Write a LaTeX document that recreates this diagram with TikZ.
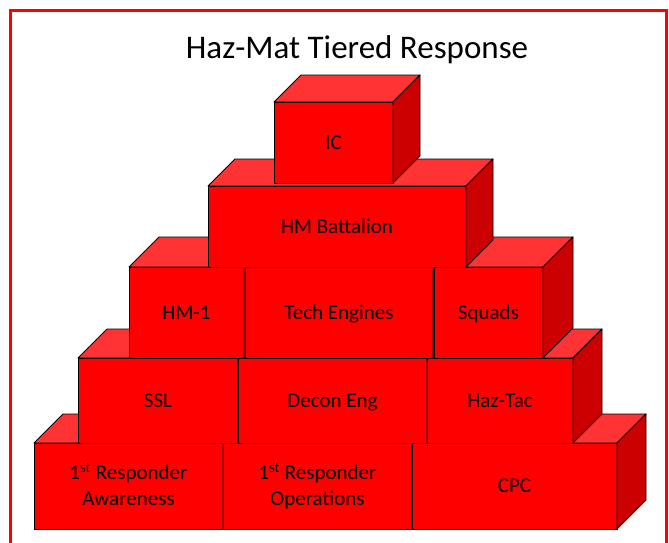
\documentclass[tikz,border=0pt]{standalone}
\usepackage{fontspec}
\setmainfont{Carlito}
\usepackage{tikz}
\usetikzlibrary{positioning}

\definecolor{brickfront}{HTML}{FF0000}
\definecolor{bricktop}{HTML}{FF3333}
\definecolor{brickside}{HTML}{CC0000}

\tikzset{
  brick/.style={draw=black, fill=brickfront, line width=0.9pt, outer sep=0pt, inner sep=2pt, align=center, text height=13.5pt, text depth=0pt, font=\fontsize{21}{26}\selectfont},
  twolines/.style={text height=39.5pt},
  topface/.style={draw=black, fill=bricktop, line width=0.9pt, line join=round},
  sideface/.style={draw=black, fill=brickside, line width=0.9pt, line join=round}
}

\begin{document}
\begin{tikzpicture}[x=1pt, y=-1pt]
  \useasboundingbox (0,0) rectangle (669,542);
  \clip (0,0) rectangle (669,542);
  \draw[red, line width=3pt] (10,10) rectangle (666,570);

  \node at (357,58) [anchor=base, font=\fontsize{33}{40}\selectfont] (n_0) {Haz-Mat Tiered Response};

  % bottom row
  \node[brick, twolines, minimum width=189pt, minimum height=86pt] at (128.5,486) (n_1) {1\textsuperscript{st} Responder\\Awareness};
  \draw[topface] (n_1.north west) -- ++(29,-29) -- ([shift={(29,-29)}]n_1.north east) -- (n_1.north east) -- cycle;
  \draw[sideface] (n_1.north east) -- ++(29,-29) -- ([shift={(29,-29)}]n_1.south east) -- (n_1.south east) -- cycle;

  \node[brick, twolines, minimum width=189pt, minimum height=86pt] [right=0pt of n_1] (n_2) {1\textsuperscript{st} Responder\\Operations};
  \draw[topface] (n_2.north west) -- ++(29,-29) -- ([shift={(29,-29)}]n_2.north east) -- (n_2.north east) -- cycle;
  \draw[sideface] (n_2.north east) -- ++(29,-29) -- ([shift={(29,-29)}]n_2.south east) -- (n_2.south east) -- cycle;

  \node[brick, minimum width=205pt, minimum height=86pt] [right=0pt of n_2] (n_3) {CPC};
  \draw[topface] (n_3.north west) -- ++(29,-29) -- ([shift={(29,-29)}]n_3.north east) -- (n_3.north east) -- cycle;
  \draw[sideface] (n_3.north east) -- ++(29,-29) -- ([shift={(29,-29)}]n_3.south east) -- (n_3.south east) -- cycle;

  % second row
  \node[brick, minimum width=160pt, minimum height=85pt] at (158,400.5) (n_4) {SSL};
  \draw[topface] (n_4.north west) -- ++(29,-29) -- ([shift={(29,-29)}]n_4.north east) -- (n_4.north east) -- cycle;
  \draw[sideface] (n_4.north east) -- ++(29,-29) -- ([shift={(29,-29)}]n_4.south east) -- (n_4.south east) -- cycle;

  \node[brick, minimum width=189pt, minimum height=85pt] [right=0pt of n_4] (n_5) {Decon Eng};
  \draw[topface] (n_5.north west) -- ++(29,-29) -- ([shift={(29,-29)}]n_5.north east) -- (n_5.north east) -- cycle;
  \draw[sideface] (n_5.north east) -- ++(29,-29) -- ([shift={(29,-29)}]n_5.south east) -- (n_5.south east) -- cycle;

  \node[brick, minimum width=146pt, minimum height=85pt] [right=0pt of n_5] (n_6) {Haz-Tac};
  \draw[topface] (n_6.north west) -- ++(29,-29) -- ([shift={(29,-29)}]n_6.north east) -- (n_6.north east) -- cycle;
  \draw[sideface] (n_6.north east) -- ++(29,-29) -- ([shift={(29,-29)}]n_6.south east) -- (n_6.south east) -- cycle;

  % third row
  \node[brick, minimum width=115pt, minimum height=91pt] at (186.5,312.5) (n_7) {HM-1};
  \draw[topface] (n_7.north west) -- ++(30,-30) -- ([shift={(30,-30)}]n_7.north east) -- (n_7.north east) -- cycle;
  \draw[sideface] (n_7.north east) -- ++(30,-30) -- ([shift={(30,-30)}]n_7.south east) -- (n_7.south east) -- cycle;

  \node[brick, minimum width=188pt, minimum height=91pt] [right=1pt of n_7] (n_8) {Tech Engines};
  \draw[topface] (n_8.north west) -- ++(30,-30) -- ([shift={(30,-30)}]n_8.north east) -- (n_8.north east) -- cycle;
  \draw[sideface] (n_8.north east) -- ++(30,-30) -- ([shift={(30,-30)}]n_8.south east) -- (n_8.south east) -- cycle;

  \node[brick, minimum width=109pt, minimum height=91pt] [right=1pt of n_8] (n_9) {Squads};
  \draw[topface] (n_9.north west) -- ++(30,-30) -- ([shift={(30,-30)}]n_9.north east) -- (n_9.north east) -- cycle;
  \draw[sideface] (n_9.north east) -- ++(30,-30) -- ([shift={(30,-30)}]n_9.south east) -- (n_9.south east) -- cycle;

  % fourth row
  \node[brick, minimum width=258pt, minimum height=81pt] at (337,226.5) (n_10) {HM Battalion};
  \draw[topface] (n_10.north west) -- ++(27,-27) -- ([shift={(27,-27)}]n_10.north east) -- (n_10.north east) -- cycle;
  \draw[sideface] (n_10.north east) -- ++(27,-27) -- ([shift={(27,-27)}]n_10.south east) -- (n_10.south east) -- cycle;

  % top
  \node[brick, minimum width=119pt, minimum height=81pt] at (333.5,142.5) (n_11) {IC};
  \draw[topface] (n_11.north west) -- ++(27,-27) -- ([shift={(27,-27)}]n_11.north east) -- (n_11.north east) -- cycle;
  \draw[sideface] (n_11.north east) -- ++(27,-27) -- ([shift={(27,-27)}]n_11.south east) -- (n_11.south east) -- cycle;

\end{tikzpicture}
\end{document}
